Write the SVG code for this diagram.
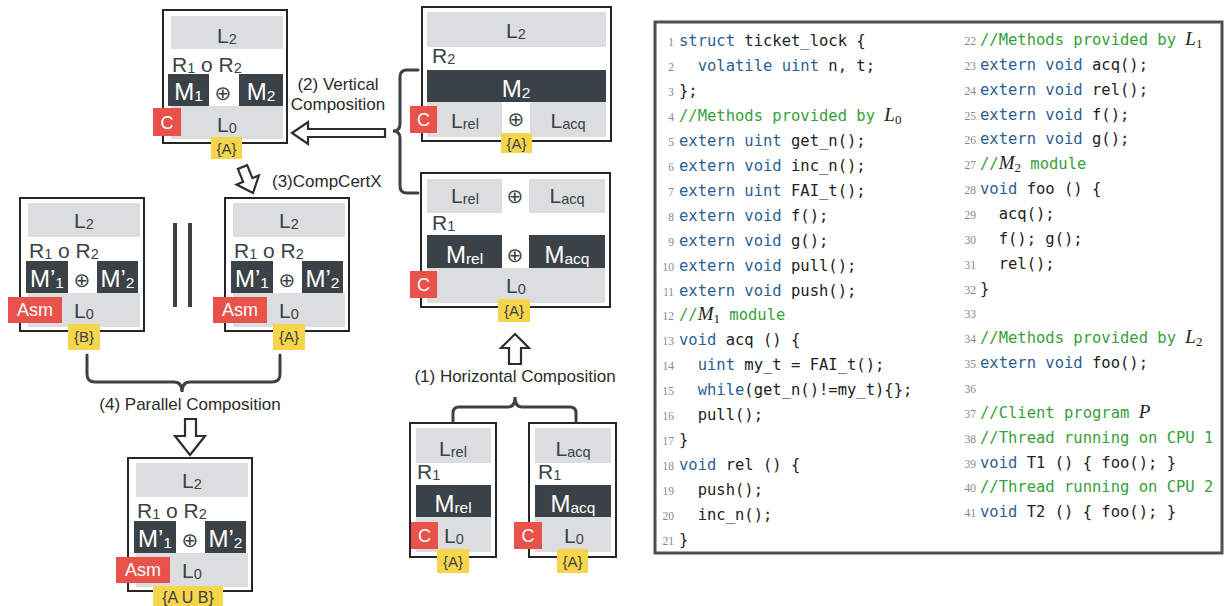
<svg xmlns="http://www.w3.org/2000/svg" width="1225" height="606" viewBox="0 0 1225 606">
<style>
text{font-family:"Liberation Sans",Arial,sans-serif}
.ob{fill:#fff;stroke:#262626;stroke-width:2}
.g{fill:#dcdddf}
.d{fill:#3b4247}
.r{fill:#e9524b}
.y{fill:#f6d54a}
.t{fill:#3b4247;font-size:21px}
.tw{fill:#fff;font-size:24px}
.s{font-size:14.5px}
.sw{font-size:15.5px}
.op{fill:#3b4247;font-size:20px;font-family:"DejaVu Sans",sans-serif}
.tr{fill:#fff;font-size:18px}
.ty{fill:#3b4247;font-size:15px}
.lab{fill:#2b2b2b;font-size:17px}
.br{fill:none;stroke:#3b4247;stroke-width:3;stroke-linecap:round}
.ha{fill:#fff;stroke:#2b2f33;stroke-width:2.2;stroke-linejoin:miter}
.bar{stroke:#3b4247;stroke-width:4}
.panel{fill:#fff;stroke:#4b5157;stroke-width:3}
.code text{font-family:"DejaVu Sans Mono",monospace;font-size:15.5px;fill:#222;white-space:pre}
.code .kw{fill:#2c5f93}
.code .cm{fill:#35a13a}
.code .mi{font-family:"Liberation Serif",serif;font-style:italic;font-size:19px;fill:#222}
.code .ms{font-family:"Liberation Serif",serif;font-size:13px;fill:#222}
.ln text{font-family:"Liberation Serif",serif;font-size:11.5px;fill:#888;text-anchor:end}
</style>

<!-- Box A: result of vertical composition -->
<g id="vc-result">
<rect class="ob" x="163" y="10" width="124" height="133"/>
<rect class="g" x="171" y="16" width="112" height="33"/>
<text class="t" x="227" y="43" text-anchor="middle">L<tspan class="s" dy="1">2</tspan></text>
<text class="t" x="172" y="72">R<tspan class="s" dy="1">1</tspan><tspan dy="-1"> o R</tspan><tspan class="s" dy="1">2</tspan></text>
<rect class="d" x="168" y="74" width="41" height="32"/>
<text class="tw" x="188.5" y="100" text-anchor="middle">M<tspan class="sw" dy="1">1</tspan></text>
<text class="op" x="223" y="100" text-anchor="middle">⊕</text>
<rect class="d" x="239" y="74" width="44" height="32"/>
<text class="tw" x="261" y="100" text-anchor="middle">M<tspan class="sw" dy="1">2</tspan></text>
<rect class="g" x="171" y="106" width="112" height="33"/>
<text class="t" x="227" y="132" text-anchor="middle">L<tspan class="s" dy="1">0</tspan></text>
<rect class="r" x="153" y="108" width="28" height="28"/>
<text class="tr" x="167" y="129" text-anchor="middle">C</text>
<rect class="y" x="211" y="137" width="31" height="22"/>
<text class="ty" x="226.5" y="154" text-anchor="middle">{A}</text>
</g>

<!-- Box B: M2 over Lrel + Lacq -->
<g id="m2-layer">
<rect class="ob" x="422" y="7" width="189" height="134"/>
<rect class="g" x="427" y="12" width="179" height="35"/>
<text class="t" x="516" y="38" text-anchor="middle">L<tspan class="s" dy="1">2</tspan></text>
<text class="t" x="432" y="63">R<tspan class="s" dy="1">2</tspan></text>
<rect class="d" x="427" y="70" width="179" height="32"/>
<text class="tw" x="516" y="97" text-anchor="middle">M<tspan class="sw" dy="1">2</tspan></text>
<rect class="g" x="427" y="102" width="75" height="35"/>
<text class="t" x="465" y="128" text-anchor="middle">L<tspan class="s" dy="1">rel</tspan></text>
<text class="op" x="516" y="126" text-anchor="middle">⊕</text>
<rect class="g" x="530" y="102" width="76" height="35"/>
<text class="t" x="568" y="128" text-anchor="middle">L<tspan class="s" dy="1">acq</tspan></text>
<rect class="r" x="410" y="106" width="27" height="27"/>
<text class="tr" x="423.5" y="126" text-anchor="middle">C</text>
<rect class="y" x="501" y="133" width="31" height="20"/>
<text class="ty" x="516.5" y="149" text-anchor="middle">{A}</text>
</g>

<!-- Box C: result of horizontal composition -->
<g id="hc-result">
<rect class="ob" x="421" y="173" width="189" height="134"/>
<rect class="g" x="427" y="179" width="75" height="34"/>
<text class="t" x="465" y="203" text-anchor="middle">L<tspan class="s" dy="1">rel</tspan></text>
<text class="op" x="515" y="203" text-anchor="middle">⊕</text>
<rect class="g" x="529" y="179" width="76" height="34"/>
<text class="t" x="567" y="203" text-anchor="middle">L<tspan class="s" dy="1">acq</tspan></text>
<text class="t" x="432" y="230">R<tspan class="s" dy="1">1</tspan></text>
<rect class="d" x="427" y="235" width="75" height="33"/>
<text class="tw" x="464.5" y="263" text-anchor="middle">M<tspan class="sw" dy="1">rel</tspan></text>
<text class="op" x="515" y="262" text-anchor="middle">⊕</text>
<rect class="d" x="529" y="235" width="76" height="33"/>
<text class="tw" x="567" y="263" text-anchor="middle">M<tspan class="sw" dy="1">acq</tspan></text>
<rect class="g" x="427" y="268" width="178" height="35"/>
<text class="t" x="516" y="293" text-anchor="middle">L<tspan class="s" dy="1">0</tspan></text>
<rect class="r" x="410" y="271" width="27" height="27"/>
<text class="tr" x="423.5" y="291" text-anchor="middle">C</text>
<rect class="y" x="498" y="299" width="32" height="23"/>
<text class="ty" x="514" y="316" text-anchor="middle">{A}</text>
</g>

<!-- Box D: rel module -->
<g id="rel-module">
<rect class="ob" x="410" y="423" width="86" height="134"/>
<rect class="g" x="416" y="428" width="75" height="35"/>
<text class="t" x="453" y="456" text-anchor="middle">L<tspan class="s" dy="1">rel</tspan></text>
<text class="t" x="417" y="479">R<tspan class="s" dy="1">1</tspan></text>
<rect class="d" x="416" y="485" width="75" height="32"/>
<text class="tw" x="453" y="512" text-anchor="middle">M<tspan class="sw" dy="1">rel</tspan></text>
<rect class="g" x="416" y="517" width="75" height="35"/>
<text class="t" x="454" y="543" text-anchor="middle">L<tspan class="s" dy="1">0</tspan></text>
<rect class="r" x="411" y="522" width="27" height="27"/>
<text class="tr" x="424.5" y="542" text-anchor="middle">C</text>
<rect class="y" x="437" y="549" width="32" height="24"/>
<text class="ty" x="453" y="567" text-anchor="middle">{A}</text>
</g>

<!-- Box E: acq module -->
<g id="acq-module">
<rect class="ob" x="529" y="423" width="87" height="134"/>
<rect class="g" x="535" y="428" width="76" height="35"/>
<text class="t" x="573" y="456" text-anchor="middle">L<tspan class="s" dy="1">acq</tspan></text>
<text class="t" x="538" y="479">R<tspan class="s" dy="1">1</tspan></text>
<rect class="d" x="535" y="485" width="76" height="32"/>
<text class="tw" x="573" y="512" text-anchor="middle">M<tspan class="sw" dy="1">acq</tspan></text>
<rect class="g" x="535" y="517" width="76" height="35"/>
<text class="t" x="574" y="543" text-anchor="middle">L<tspan class="s" dy="1">0</tspan></text>
<rect class="r" x="514" y="522" width="28" height="27"/>
<text class="tr" x="528" y="542" text-anchor="middle">C</text>
<rect class="y" x="557" y="549" width="31" height="24"/>
<text class="ty" x="572.5" y="567" text-anchor="middle">{A}</text>
</g>

<!-- Box F: Asm with {B} -->
<g id="asm-B">
<rect class="ob" x="20" y="198" width="124" height="133"/>
<rect class="g" x="28" y="203" width="112" height="34"/>
<text class="t" x="84" y="228" text-anchor="middle">L<tspan class="s" dy="1">2</tspan></text>
<text class="t" x="29" y="258">R<tspan class="s" dy="1">1</tspan><tspan dy="-1"> o R</tspan><tspan class="s" dy="1">2</tspan></text>
<rect class="d" x="26" y="261" width="42" height="32"/>
<text class="tw" x="47" y="287" text-anchor="middle">M’<tspan class="sw" dy="1">1</tspan></text>
<text class="op" x="82" y="287" text-anchor="middle">⊕</text>
<rect class="d" x="97" y="261" width="41" height="32"/>
<text class="tw" x="117.5" y="287" text-anchor="middle">M’<tspan class="sw" dy="1">2</tspan></text>
<rect class="g" x="28" y="293" width="112" height="34"/>
<text class="t" x="84" y="318" text-anchor="middle">L<tspan class="s" dy="1">0</tspan></text>
<rect class="r" x="8" y="297" width="54" height="26"/>
<text class="tr" x="35" y="316" text-anchor="middle">Asm</text>
<rect class="y" x="68" y="324" width="32" height="26"/>
<text class="ty" x="84" y="342" text-anchor="middle">{B}</text>
</g>

<!-- Box G: Asm with {A} -->
<g id="asm-A" transform="translate(205,0)">
<rect class="ob" x="20" y="198" width="124" height="133"/>
<rect class="g" x="28" y="203" width="112" height="34"/>
<text class="t" x="84" y="228" text-anchor="middle">L<tspan class="s" dy="1">2</tspan></text>
<text class="t" x="29" y="258">R<tspan class="s" dy="1">1</tspan><tspan dy="-1"> o R</tspan><tspan class="s" dy="1">2</tspan></text>
<rect class="d" x="26" y="261" width="42" height="32"/>
<text class="tw" x="47" y="287" text-anchor="middle">M’<tspan class="sw" dy="1">1</tspan></text>
<text class="op" x="82" y="287" text-anchor="middle">⊕</text>
<rect class="d" x="97" y="261" width="41" height="32"/>
<text class="tw" x="117.5" y="287" text-anchor="middle">M’<tspan class="sw" dy="1">2</tspan></text>
<rect class="g" x="28" y="293" width="112" height="34"/>
<text class="t" x="84" y="318" text-anchor="middle">L<tspan class="s" dy="1">0</tspan></text>
<rect class="r" x="8" y="297" width="54" height="26"/>
<text class="tr" x="35" y="316" text-anchor="middle">Asm</text>
<rect class="y" x="68" y="324" width="32" height="26"/>
<text class="ty" x="84" y="342" text-anchor="middle">{A}</text>
</g>

<!-- Box H: Asm with {A U B} -->
<g id="asm-AB" transform="translate(108,260)">
<rect class="ob" x="20" y="198" width="124" height="133"/>
<rect class="g" x="28" y="203" width="112" height="34"/>
<text class="t" x="84" y="228" text-anchor="middle">L<tspan class="s" dy="1">2</tspan></text>
<text class="t" x="29" y="258">R<tspan class="s" dy="1">1</tspan><tspan dy="-1"> o R</tspan><tspan class="s" dy="1">2</tspan></text>
<rect class="d" x="26" y="261" width="42" height="32"/>
<text class="tw" x="47" y="287" text-anchor="middle">M’<tspan class="sw" dy="1">1</tspan></text>
<text class="op" x="82" y="287" text-anchor="middle">⊕</text>
<rect class="d" x="97" y="261" width="41" height="32"/>
<text class="tw" x="117.5" y="287" text-anchor="middle">M’<tspan class="sw" dy="1">2</tspan></text>
<rect class="g" x="28" y="293" width="112" height="34"/>
<text class="t" x="84" y="318" text-anchor="middle">L<tspan class="s" dy="1">0</tspan></text>
<rect class="r" x="8" y="297" width="54" height="26"/>
<text class="tr" x="35" y="316" text-anchor="middle">Asm</text>
<rect class="y" x="45" y="326" width="70" height="24"/>
<text class="ty" x="80" y="343" text-anchor="middle" style="font-size:16px">{A U B}</text>
</g>

<!-- Connectors -->
<g id="connectors">
<path class="br" d="M418,70 H407 Q400,70 400,77 V124 Q400,131 393,131 Q400,131 400,138 V186 Q400,193 407,193 H418"/>
<polygon class="ha" points="292,133 308,122 308,129 385,129 385,137 308,137 308,144"/>
<polygon class="ha" transform="translate(253,193) rotate(-22)" points="0,0 -12,-14 -5,-14 -5,-28 5,-28 5,-14 12,-14"/>
<path class="br" d="M453,421 V413 Q453,407 459,407 H508 Q515,407 515,397 Q515,407 522,407 H570 Q576,407 576,413 V421"/>
<polygon class="ha" points="515,334 529,348 521,348 521,364 509,364 509,348 501,348"/>
<path class="br" d="M87,355 V374 Q87,382 95,382 H174 Q182,382 182,392 Q182,382 190,382 H272 Q280,382 280,374 V355"/>
<polygon class="ha" points="190,455 205,436 196,436 196,419 185,419 185,436 175,436"/>
<line class="bar" x1="175" y1="223" x2="175" y2="307"/>
<line class="bar" x1="190" y1="223" x2="190" y2="307"/>
</g>

<g id="labels">
<text class="lab" x="338" y="90" text-anchor="middle">(2) Vertical</text>
<text class="lab" x="338" y="110" text-anchor="middle">Composition</text>
<text class="lab" x="272" y="187">(3)CompCertX</text>
<text class="lab" x="190" y="410" text-anchor="middle">(4) Parallel Composition</text>
<text class="lab" x="515" y="382" text-anchor="middle">(1) Horizontal Composition</text>
</g>

<!-- Code panel -->
<g id="code-panel">
<rect class="panel" x="655" y="22" width="567" height="531"/>
<g class="ln">
<text x="674" y="46">1</text><text x="674" y="71">2</text><text x="674" y="96">3</text><text x="674" y="121">4</text>
<text x="674" y="146">5</text><text x="674" y="171">6</text><text x="674" y="196">7</text><text x="674" y="221">8</text>
<text x="674" y="246">9</text><text x="674" y="271">10</text><text x="674" y="296">11</text><text x="674" y="320">12</text>
<text x="674" y="345">13</text><text x="674" y="370">14</text><text x="674" y="395">15</text><text x="674" y="420">16</text>
<text x="674" y="445">17</text><text x="674" y="470">18</text><text x="674" y="495">19</text><text x="674" y="520">20</text>
<text x="674" y="545">21</text>
<text x="976" y="45">22</text><text x="976" y="69.9">23</text><text x="976" y="94.7">24</text><text x="976" y="119.6">25</text>
<text x="976" y="144.4">26</text><text x="976" y="169.3">27</text><text x="976" y="194.1">28</text><text x="976" y="219">29</text>
<text x="976" y="243.8">30</text><text x="976" y="268.7">31</text><text x="976" y="293.5">32</text><text x="976" y="318.4">33</text>
<text x="976" y="343.2">34</text><text x="976" y="368.1">35</text><text x="976" y="392.9">36</text><text x="976" y="417.8">37</text>
<text x="976" y="442.6">38</text><text x="976" y="467.5">39</text><text x="976" y="492.3">40</text><text x="976" y="517.2">41</text>
</g>
<g class="code" xml:space="preserve">
<text x="679" y="46"><tspan class="kw">struct</tspan> ticket_lock {</text>
<text x="679" y="71">  <tspan class="kw">volatile uint</tspan> n, t;</text>
<text x="679" y="96">};</text>
<text x="679" y="121"><tspan class="cm">//Methods provided by </tspan><tspan class="mi">L</tspan><tspan class="ms" dy="3">0</tspan></text>
<text x="679" y="146"><tspan class="kw">extern uint</tspan> get_n();</text>
<text x="679" y="171"><tspan class="kw">extern void</tspan> inc_n();</text>
<text x="679" y="196"><tspan class="kw">extern uint</tspan> FAI_t();</text>
<text x="679" y="221"><tspan class="kw">extern void</tspan> f();</text>
<text x="679" y="246"><tspan class="kw">extern void</tspan> g();</text>
<text x="679" y="271"><tspan class="kw">extern void</tspan> pull();</text>
<text x="679" y="296"><tspan class="kw">extern void</tspan> push();</text>
<text x="679" y="320"><tspan class="cm">//</tspan><tspan class="mi">M</tspan><tspan class="ms" dy="3">1</tspan><tspan class="cm" dy="-3"> module</tspan></text>
<text x="679" y="345"><tspan class="kw">void</tspan> acq () {</text>
<text x="679" y="370">  <tspan class="kw">uint</tspan> my_t = FAI_t();</text>
<text x="679" y="395">  <tspan class="kw">while</tspan>(get_n()!=my_t){};</text>
<text x="679" y="420">  pull();</text>
<text x="679" y="445">}</text>
<text x="679" y="470"><tspan class="kw">void</tspan> rel () {</text>
<text x="679" y="495">  push();</text>
<text x="679" y="520">  inc_n();</text>
<text x="679" y="545">}</text>
<text x="980" y="45"><tspan class="cm">//Methods provided by </tspan><tspan class="mi">L</tspan><tspan class="ms" dy="3">1</tspan></text>
<text x="980" y="69.9"><tspan class="kw">extern void</tspan> acq();</text>
<text x="980" y="94.7"><tspan class="kw">extern void</tspan> rel();</text>
<text x="980" y="119.6"><tspan class="kw">extern void</tspan> f();</text>
<text x="980" y="144.4"><tspan class="kw">extern void</tspan> g();</text>
<text x="980" y="169.3"><tspan class="cm">//</tspan><tspan class="mi">M</tspan><tspan class="ms" dy="3">2</tspan><tspan class="cm" dy="-3"> module</tspan></text>
<text x="980" y="194.1"><tspan class="kw">void</tspan> foo () {</text>
<text x="980" y="219">  acq();</text>
<text x="980" y="243.8">  f(); g();</text>
<text x="980" y="268.7">  rel();</text>
<text x="980" y="293.5">}</text>
<text x="980" y="343.2"><tspan class="cm">//Methods provided by </tspan><tspan class="mi">L</tspan><tspan class="ms" dy="3">2</tspan></text>
<text x="980" y="368.1"><tspan class="kw">extern void</tspan> foo();</text>
<text x="980" y="417.8"><tspan class="cm">//Client program </tspan><tspan class="mi">P</tspan></text>
<text x="980" y="442.6"><tspan class="cm">//Thread running on CPU 1</tspan></text>
<text x="980" y="467.5"><tspan class="kw">void</tspan> T1 () { foo(); }</text>
<text x="980" y="492.3"><tspan class="cm">//Thread running on CPU 2</tspan></text>
<text x="980" y="517.2"><tspan class="kw">void</tspan> T2 () { foo(); }</text>
</g>
</g>
</svg>
